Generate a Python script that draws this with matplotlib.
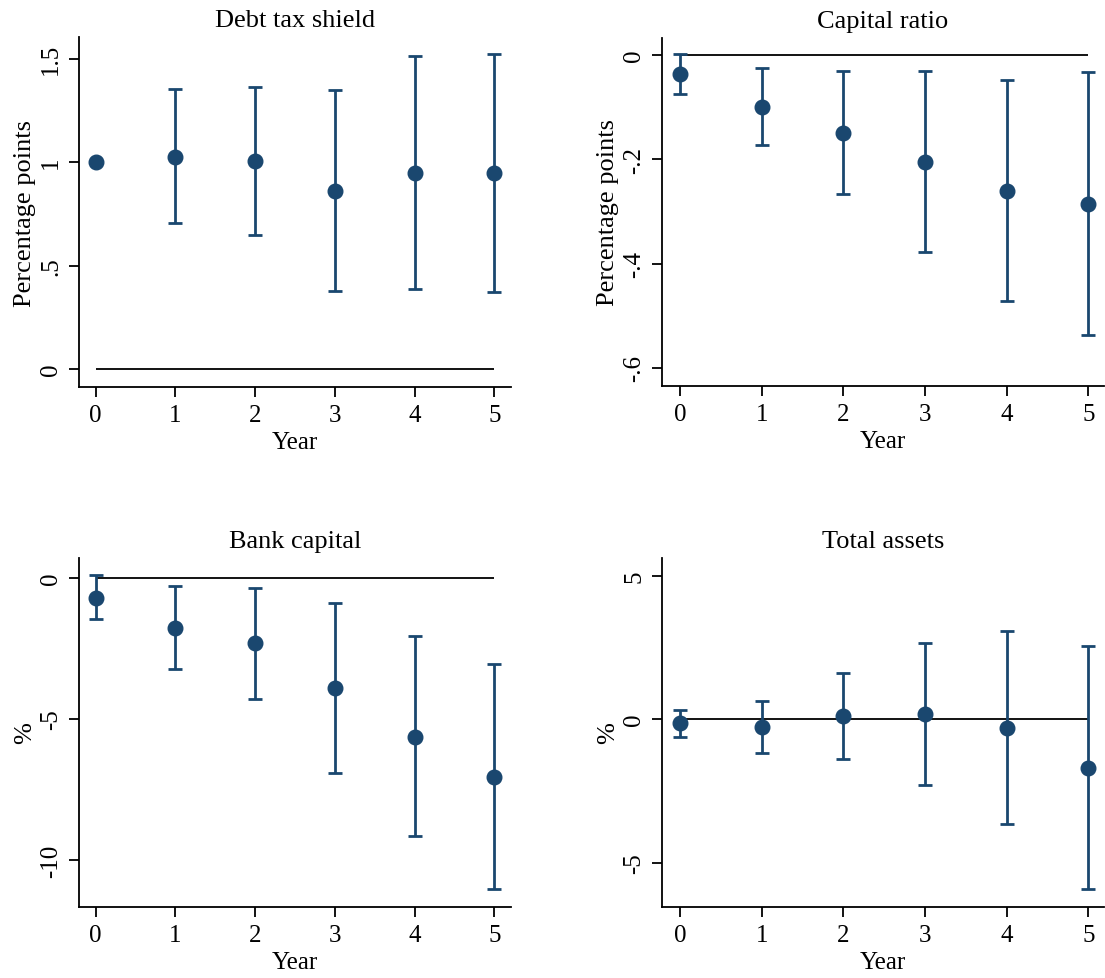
import numpy as np
import matplotlib
matplotlib.use("Agg")
import matplotlib.pyplot as plt

plt.rcParams['font.family'] = ['Liberation Serif', 'DejaVu Serif']

# event-time years
years = [0, 1, 2, 3, 4, 5]

# Debt tax shield (percentage points); no interval in the base year
dts_coef = [1.000, 1.026, 1.005, 0.860, 0.947, 0.945]
dts_lo = [np.nan, 0.704, 0.649, 0.375, 0.385, 0.373]
dts_hi = [np.nan, 1.353, 1.362, 1.348, 1.511, 1.520]

# Capital ratio (percentage points)
cr_coef = [-0.037, -0.099, -0.149, -0.205, -0.260, -0.285]
cr_lo = [-0.075, -0.173, -0.267, -0.377, -0.472, -0.537]
cr_hi = [0.002, -0.025, -0.030, -0.031, -0.048, -0.033]

# Bank capital (%)
bc_coef = [-0.71, -1.77, -2.33, -3.92, -5.63, -7.05]
bc_lo = [-1.47, -3.23, -4.31, -6.93, -9.17, -11.03]
bc_hi = [0.08, -0.31, -0.37, -0.90, -2.07, -3.06]

# Total assets (%)
ta_coef = [-0.15, -0.29, 0.09, 0.17, -0.33, -1.71]
ta_lo = [-0.64, -1.20, -1.40, -2.30, -3.66, -5.92]
ta_hi = [0.31, 0.63, 1.59, 2.65, 3.05, 2.54]

# y ticks in Stata style
dts_ticks = [0, 0.5, 1, 1.5]
dts_labels = ['0', '.5', '1', '1.5']
cr_ticks = [-0.6, -0.4, -0.2, 0]
cr_labels = ['-.6', '-.4', '-.2', '0']
bc_ticks = [-10, -5, 0]
bc_labels = ['-10', '-5', '0']
ta_ticks = [-5, 0, 5]
ta_labels = ['-5', '0', '5']

col = '#1a476f'
W, H = 1105, 979

fig = plt.figure(figsize=(W / 100, H / 100), dpi=100)


def make_ax(l, r, t, b):
    return fig.add_axes([l / W, 1 - b / H, (r - l) / W, (b - t) / H])


panels = [
    (make_ax(79, 511, 38, 388), 'Debt tax shield', 'Percentage points',
     dts_coef, dts_lo, dts_hi, dts_ticks, dts_labels, (-0.087, 1.604), (-0.21, 5.21)),
    (make_ax(662, 1104, 39, 387), 'Capital ratio', 'Percentage points',
     cr_coef, cr_lo, cr_hi, cr_ticks, cr_labels, (-0.635, 0.033), (-0.22, 5.19)),
    (make_ax(79, 511, 559, 908), 'Bank capital', '%',
     bc_coef, bc_lo, bc_hi, bc_ticks, bc_labels, (-11.67, 0.70), (-0.21, 5.21)),
    (make_ax(662, 1104, 559, 908), 'Total assets', '%',
     ta_coef, ta_lo, ta_hi, ta_ticks, ta_labels, (-6.55, 5.61), (-0.22, 5.19)),
]

for ax, title, ylab, coef, lo, hi, yt, ytl, ylim, xlim in panels:
    coef = np.array(coef)
    err = np.vstack([coef - np.array(lo), np.array(hi) - coef])
    ax.hlines(0, years[0], years[-1], color='black', lw=1.3, zorder=1)
    ax.errorbar(years, coef, yerr=err, fmt='none', ecolor=col,
                elinewidth=2.0, capsize=5, capthick=2.0, zorder=2)
    ax.plot(years, coef, 'o', color=col, ms=10.5, zorder=3)
    ax.set_xlim(*xlim)
    ax.set_ylim(*ylim)
    ax.set_xticks(years)
    ax.set_yticks(yt)
    ax.set_yticklabels(ytl, rotation=90, va='center')
    ax.spines['top'].set_visible(False)
    ax.spines['right'].set_visible(False)
    for s in ['left', 'bottom']:
        ax.spines[s].set_linewidth(1.3)
    ax.tick_params(direction='out', length=7, width=1.3, labelsize=18, pad=5)
    ax.set_title(title, fontsize=19, pad=8)
    ax.set_xlabel('Year', fontsize=18, labelpad=4)
    ax.set_ylabel(ylab, fontsize=19, labelpad=3)

fig.savefig('out.png', dpi=100)
